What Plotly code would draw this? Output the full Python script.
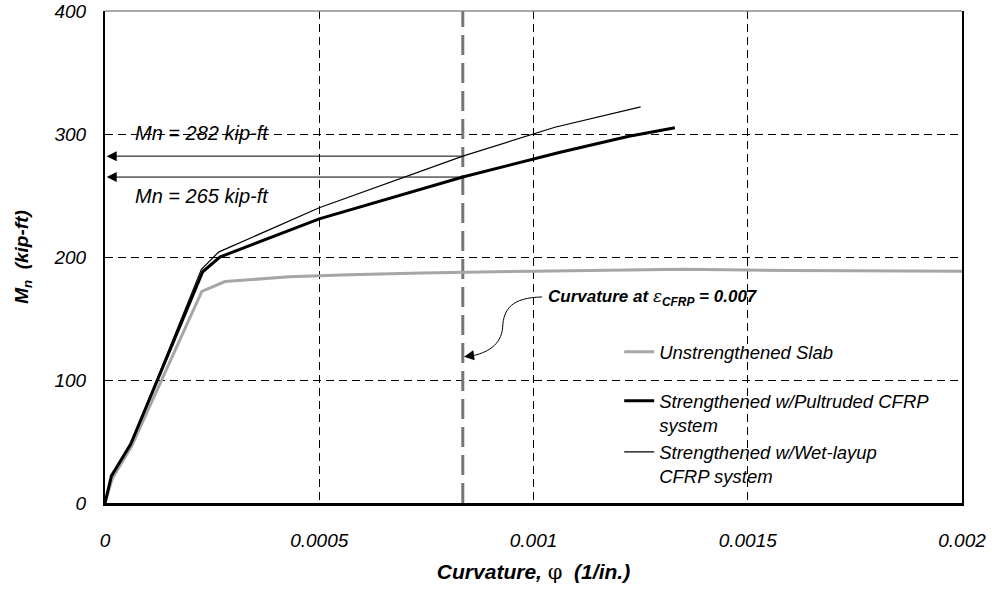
import plotly.graph_objects as go

# curvature (1/in.) vs moment Mn (kip-ft)
phi_unstr = [0, 0.000017, 0.000062, 0.000226, 0.00028, 0.00043, 0.00057, 0.00074, 0.001, 0.00135, 0.0016, 0.002]
m_unstr = [0, 20, 46, 172, 180, 184, 185.5, 187, 188.5, 190, 189, 188.5]

phi_pult = [0, 0.000015, 0.00006, 0.000228, 0.000268, 0.0005, 0.000835, 0.001, 0.00106, 0.00122, 0.00133]
m_pult = [0, 22, 48, 188, 200, 231, 265, 280, 285, 298, 305]

phi_wet = [0, 0.000015, 0.00006, 0.000225, 0.000265, 0.0005, 0.000835, 0.001, 0.00105, 0.00125]
m_wet = [0, 22, 48, 190, 204, 240, 282, 300, 305.5, 322]

names = ["Unstrengthened Slab",
         "Strengthened w/Pultruded CFRP<br>system",
         "Strengthened w/Wet-layup<br>CFRP system"]

x_ticks = [0, 0.0005, 0.001, 0.0015, 0.002]
x_tick_text = ["0", "0.0005", "0.001", "0.0015", "0.002"]
y_ticks = [0, 100, 200, 300, 400]
y_tick_text = ["0", "100", "200", "300", "400"]

phi_cfrp = 0.000835          # curvature at eps_CFRP = 0.007
mn_values = [282, 265]       # nominal moments marked with arrows
mn_label_y = [301, 250]

FONT = "Arial, Liberation Sans, sans-serif"

fig = go.Figure()

fig.add_trace(go.Scatter(x = phi_unstr, y = m_unstr, name = names[0], mode = "lines",
                         legendgroup = "a", line = dict(color = "#a6a6a6", width = 3)))
fig.add_trace(go.Scatter(x = phi_pult, y = m_pult, name = names[1], mode = "lines",
                         legendgroup = "b", line = dict(color = "black", width = 3)))
fig.add_trace(go.Scatter(x = phi_wet, y = m_wet, name = names[2], mode = "lines",
                         legendgroup = "b", line = dict(color = "black", width = 1.2)))

# white box behind the legend hides the grid there
fig.add_shape(type = "rect", xref = "paper", yref = "paper", x0 = 0.594, x1 = 0.974, y0 = 0.028, y1 = 0.352,
              fillcolor = "white", line = dict(width = 0), layer = "between")

# top border
fig.add_shape(type = "line", xref = "paper", yref = "paper", x0 = 0, x1 = 1, y0 = 1, y1 = 1,
              line = dict(color = "#8c8c8c", width = 1.5))

# vertical dashed line at the CFRP rupture curvature
fig.add_shape(type = "line", xref = "x", yref = "y", x0 = phi_cfrp, x1 = phi_cfrp, y0 = 0, y1 = 400,
              line = dict(color = "#767676", width = 3, dash = "20px,8px"), layer = "between")

# Mn arrows and labels
for mn, ly in zip(mn_values, mn_label_y):
    fig.add_annotation(x = 0.000004, y = mn, ax = phi_cfrp, ay = mn, xref = "x", yref = "y",
                       axref = "x", ayref = "y", text = "", showarrow = True,
                       arrowhead = 2, arrowsize = 2, arrowwidth = 1, arrowcolor = "black")
    fig.add_annotation(x = 0.000066, y = ly, xref = "x", yref = "y", text = f"Mn = {mn} kip-ft",
                       showarrow = False, xanchor = "left",
                       font = dict(family = FONT, size = 20, color = "black", style = "italic"))

# curvature callout with curved leader
fig.add_annotation(x = 0.00103, y = 167, xref = "x", yref = "y", xanchor = "left", showarrow = False,
                   text = "<b><i>Curvature at </i></b><span style='font-family:DejaVu Serif'><i>ε</i></span>"
                          "<b><i><sub>CFRP</sub> = 0.007</i></b>",
                   font = dict(family = FONT, size = 17, color = "black"))
fig.add_shape(type = "path", xref = "x", yref = "y",
              path = "M 0.00102,167.5 C 0.00095,167 0.00093,158 0.000928,143 "
                     "C 0.000925,128 0.00089,122 0.000855,119.5",
              line = dict(color = "black", width = 1))
fig.add_annotation(x = phi_cfrp + 0.000003, y = 119, ax = 0.000858, ay = 120, xref = "x", yref = "y",
                   axref = "x", ayref = "y", text = "", showarrow = True,
                   arrowhead = 2, arrowsize = 2, arrowwidth = 1, arrowcolor = "black")

fig.update_layout(
    width = 992, height = 600,
    template = "none",
    paper_bgcolor = "white", plot_bgcolor = "white",
    margin = dict(l = 105, r = 30, t = 11, b = 97),
    font = dict(family = FONT, color = "black"),
    showlegend = True,
    legend = dict(x = 0.6, y = 0.345, xanchor = "left", yanchor = "top",
                  bgcolor = "rgba(0,0,0,0)", borderwidth = 0, valign = "top",
                  traceorder = "grouped", tracegroupgap = 22,
                  font = dict(family = FONT, size = 18.5, style = "italic")),
    xaxis = dict(range = [0, 0.002], tickvals = x_ticks, ticktext = x_tick_text,
                 tickfont = dict(family = FONT, size = 19, style = "italic"),
                 showgrid = True, gridcolor = "black", gridwidth = 1, griddash = "8px,5px",
                 showline = True, linecolor = "black", linewidth = 2.5, mirror = False,
                 zeroline = False, ticks = "", ticklabelstandoff = 18, automargin = False,
                 ticklabeloverflow = "allow",
                 title = dict(text = "<b><i>Curvature, </i></b><span style='font-family:DejaVu Serif'>φ</span><b><i>  (1/in.)</i></b>",
                              font = dict(family = FONT, size = 21), standoff = 15)),
    yaxis = dict(range = [0, 400], tickvals = y_ticks, ticktext = y_tick_text,
                 tickfont = dict(family = FONT, size = 19, style = "italic"),
                 showgrid = True, gridcolor = "black", gridwidth = 1, griddash = "8px,5px",
                 showline = True, linecolor = "black", linewidth = 2, mirror = True,
                 zeroline = False, ticks = "", ticklabelstandoff = 13, automargin = False,
                 ticklabeloverflow = "allow",
                 title = dict(text = "<b><i>M<sub>n</sub>  (kip-ft)</i></b>",
                              font = dict(family = FONT, size = 19), standoff = 20)),
)

# drop the page's default body margin so the figure fills the window
fig.write_html("out.html", config = {"displayModeBar": False},
               post_script = "document.body.style.margin = '0px';")
